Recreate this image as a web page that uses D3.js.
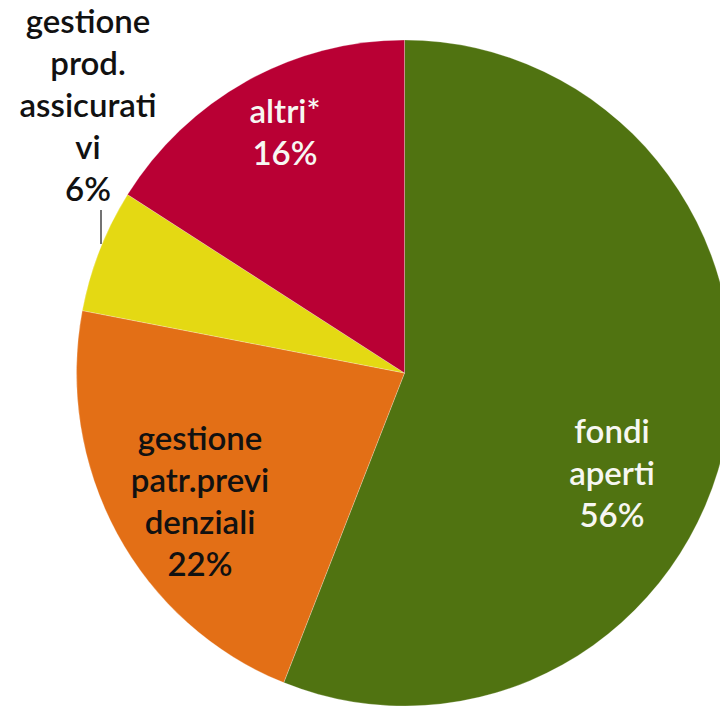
<!DOCTYPE html>
<html>
<head>
<meta charset="utf-8">
<script src="https://cdn.jsdelivr.net/npm/d3@7"></script>
<style>
  html, body { margin: 0; padding: 0; background: #fff; }
  svg { display: block; }
  text { font-family: Lato, "Open Sans", sans-serif; font-weight: 600; }
</style>
</head>
<body>
<svg id="chart" width="720" height="707"></svg>
<script>
// Share of each management type, clockwise from 12 o'clock
const categories = ["fondi aperti", "gestione patr.previdenziali", "gestione prod. assicurativi", "altri*"];
const shares = [56, 22, 6, 16];
const labelLines = [
  ["fondi", "aperti"],
  ["gestione", "patr.previ", "denziali"],
  ["gestione", "prod.", "assicurati", "vi"],
  ["altri*"]
];
const sliceColors = ["#507311", "#e36f16", "#e4d913", "#b90034"];
const textColors = ["#f7f7f2", "#111111", "#111111", "#f7f7f2"];

// layout
const cx = 404.5, cy = 373, ry = 333, rx = 328;
const lineHeight = 42, fontSize = 33;
const labelAnchors = [
  { x: 612, y: 443 },
  { x: 200, y: 450 },
  { x: 88,  y: 33 },
  { x: 285, y: 123 }
];

const svg = d3.select("#chart");

const pie = d3.pie().sort(null).value(d => d.value).startAngle(0).endAngle(2 * Math.PI);
const data = categories.map((c, i) => ({ name: c, value: shares[i], i }));
const arcs = pie(data);
const arc = d3.arc().innerRadius(0).outerRadius(ry);

const g = svg.append("g")
  .attr("transform", `translate(${cx},${cy}) scale(${rx / ry},1)`);

g.selectAll("path.slice")
  .data(arcs)
  .join("path")
  .attr("class", "slice")
  .attr("d", arc)
  .attr("fill", d => sliceColors[d.data.i])
  .attr("stroke", "#ffffff")
  .attr("stroke-opacity", 0.3)
  .attr("stroke-width", 0.8);

// labels: name lines followed by the percentage
const labels = svg.selectAll("text.label")
  .data(arcs)
  .join("text")
  .attr("class", "label")
  .attr("text-anchor", "middle")
  .attr("font-size", fontSize)
  .attr("fill", d => textColors[d.data.i]);

labels.each(function(d) {
  const a = labelAnchors[d.data.i];
  const lines = labelLines[d.data.i].concat([d.data.value + "%"]);
  d3.select(this).selectAll("tspan")
    .data(lines)
    .join("tspan")
    .attr("x", a.x)
    .attr("y", (l, k) => a.y + k * lineHeight)
    .text(l => l);
});

// leader line for the small slice label
svg.append("line")
  .attr("x1", 101).attr("x2", 101)
  .attr("y1", 210).attr("y2", 244)
  .attr("stroke", "#444")
  .attr("stroke-width", 1.5);
</script>
</body>
</html>
